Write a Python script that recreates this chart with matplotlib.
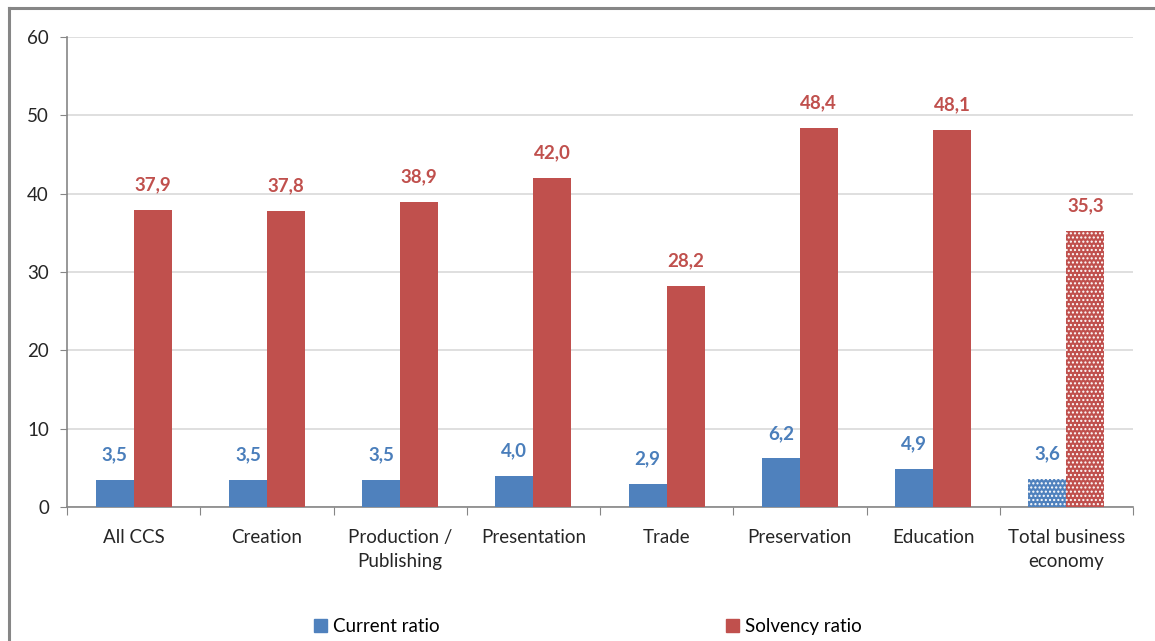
import numpy as np
import matplotlib.pyplot as plt
from matplotlib.lines import Line2D
from matplotlib.patches import Patch

plt.rcParams['font.family'] = ['Lato', 'DejaVu Sans']

# Sector data
categories = ['All CCS', 'Creation', 'Production /\nPublishing', 'Presentation',
              'Trade', 'Preservation', 'Education', 'Total business\neconomy']
current_ratio = [3.5, 3.5, 3.5, 4.0, 2.9, 6.2, 4.9, 3.6]
solvency_ratio = [37.9, 37.8, 38.9, 42.0, 28.2, 48.4, 48.1, 35.3]

blue = '#4f81bd'
red = '#c0504d'
blue_txt = '#4a7ebb'
red_txt = '#c0504d'

fig = plt.figure(figsize=(11.55, 6.41), dpi=100)
ax = fig.add_axes([0.058, 0.209, 0.923, 0.733])

x = np.arange(len(categories))
w = 0.285
bars_c = ax.bar(x - w / 2, current_ratio, w, color=blue, zorder=3)
bars_s = ax.bar(x + w / 2, solvency_ratio, w, color=red, zorder=3)

# dotted fill for the whole-economy comparison bars
plt.rcParams['hatch.linewidth'] = 0.9
for b in (bars_c[-1], bars_s[-1]):
    b.set_hatch('....')
    b.set_edgecolor('white')
    b.set_linewidth(0)

def fmt(v):
    return f'{v:.1f}'.replace('.', ',')

for xi, v in zip(x, current_ratio):
    ax.annotate(fmt(v), (xi - w / 2, v), xytext=(0, 12), textcoords='offset points',
                ha='center', va='bottom', color=blue_txt, fontsize=13.5, fontweight='bold')
for xi, v in zip(x, solvency_ratio):
    ax.annotate(fmt(v), (xi + w / 2, v), xytext=(0, 12), textcoords='offset points',
                ha='center', va='bottom', color=red_txt, fontsize=13.5, fontweight='bold')

ax.set_xlim(-0.5, len(categories) - 0.5)
ax.set_ylim(0, 60)
ax.set_yticks(range(0, 61, 10))
ax.grid(axis='y', color='#d9d9d9', linewidth=1.2, zorder=0)

# category boundaries get ticks, names sit between them
ax.set_xticks(np.arange(-0.5, len(categories)), minor=False)
ax.set_xticklabels([])
ax.set_xticks(x, minor=True)
ax.set_xticklabels(categories, minor=True, fontsize=13.5, color='#262626', linespacing=1.45)
ax.tick_params(axis='x', which='major', length=6, color='#868686')
ax.tick_params(axis='x', which='minor', length=0, pad=16)
ax.tick_params(axis='y', length=5, color='#868686', labelsize=13.5, labelcolor='#262626', pad=8)

for s in ('top', 'right'):
    ax.spines[s].set_visible(False)
for s in ('left', 'bottom'):
    ax.spines[s].set_color('#868686')
    ax.spines[s].set_linewidth(1.2)

handles = [Patch(color=blue), Patch(color=red)]
fig.legend(handles, ['Current ratio', 'Solvency ratio'], loc='center',
           bbox_to_anchor=(0.509, 0.023), ncol=2, frameon=False, fontsize=13.5,
           handlelength=0.7, handleheight=0.7, handletextpad=0.3, columnspacing=15.3)

# outer frame along the left and top edges
fig.add_artist(Line2D([0.008, 0.008], [0, 0.987], transform=fig.transFigure,
                      color='#868686', linewidth=2.2))
fig.add_artist(Line2D([0.008, 1], [0.987, 0.987], transform=fig.transFigure,
                      color='#868686', linewidth=2.2))

fig.savefig('out.png', dpi=100)
